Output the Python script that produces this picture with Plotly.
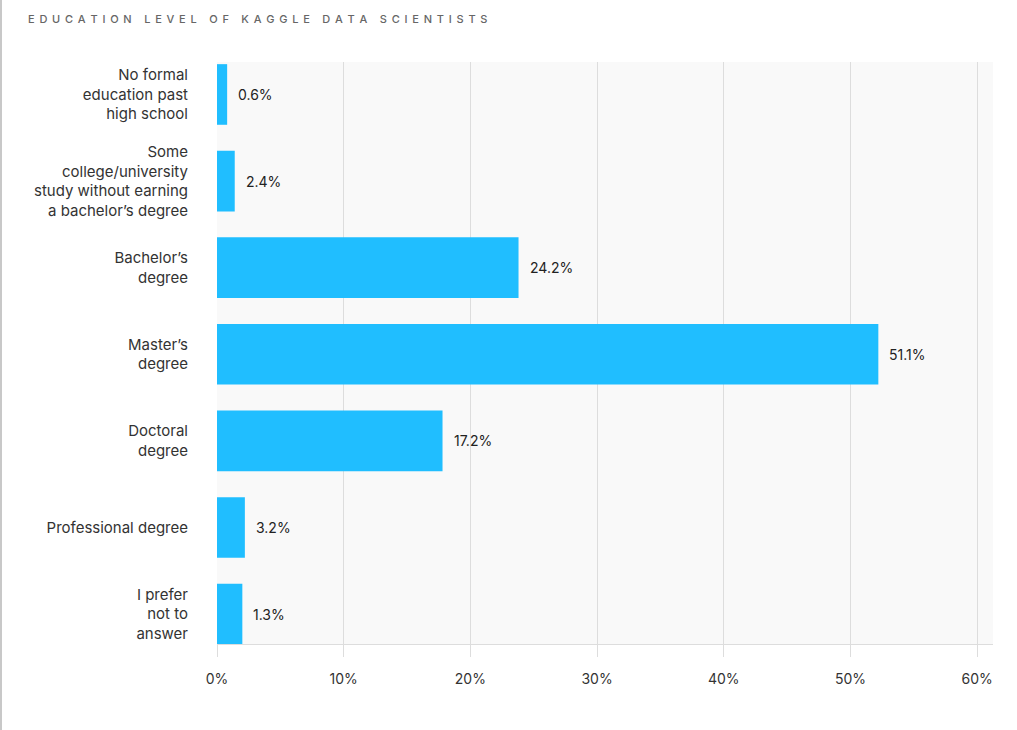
import plotly.graph_objects as go

categories = [
    "No formal<br>education past<br>high school",
    "Some<br>college/university<br>study without earning<br>a bachelor’s degree",
    "Bachelor’s<br>degree",
    "Master’s<br>degree",
    "Doctoral<br>degree",
    "Professional degree",
    "I prefer<br>not to<br>answer",
]
# bar lengths as drawn (percent)
bar_values = [0.8, 1.4, 23.8, 52.2, 17.8, 2.2, 2.0]
# printed value labels
value_labels = ["0.6%", "2.4%", "24.2%", "51.1%", "17.2%", "3.2%", "1.3%"]
x_ticks = [0, 10, 20, 30, 40, 50, 60]
x_tick_text = ["0%", "10%", "20%", "30%", "40%", "50%", "60%"]

title_text = "EDUCATION LEVEL OF KAGGLE DATA SCIENTISTS"
spaced_title = "\u2009\u2009\u200a".join(list(title_text))

FONT = "Inter, Roboto, sans-serif"
W, H = 1017, 730
L, R, T, B = 217, 24, 62, 86

fig = go.Figure()
fig.add_trace(go.Bar(
    x=bar_values,
    y=list(range(len(categories))),
    orientation="h",
    marker=dict(color="#20BEFF", line=dict(width=0)),
    width=0.70,
    hoverinfo="skip",
))

for i, (v, lab) in enumerate(zip(bar_values, value_labels)):
    fig.add_annotation(
        x=v, y=i, text=lab, showarrow=False, xanchor="left", yanchor="middle",
        xshift=9, font=dict(family=FONT, size=14, color="#222222"),
    )

plot_w = W - L - R
fig.add_shape(
    type="line", xref="paper", yref="paper",
    x0=(1 - L) / plot_w, x1=(1 - L) / plot_w, y0=-B / (H - T - B), y1=1 + T / (H - T - B),
    line=dict(color="#c8c8c8", width=2), layer="above",
)

fig.update_layout(
    width=W, height=H,
    margin=dict(l=L, r=R, t=T, b=B),
    paper_bgcolor="white",
    plot_bgcolor="#f9f9f9",
    showlegend=False,
    font=dict(family=FONT, size=15, color="#333333"),
    title=dict(
        text=spaced_title, x=28 / W, xanchor="left", y=1 - 19 / H, yanchor="middle",
        font=dict(family=FONT, size=11, color="#666666", weight=500),
    ),
    xaxis=dict(
        range=[0, 61.25], tickvals=x_ticks, ticktext=x_tick_text,
        showgrid=True, gridcolor="#dddddd", gridwidth=1,
        ticks="outside", ticklen=12, tickcolor="#dddddd", tickwidth=1,
        showline=True, linecolor="#dddddd", linewidth=1,
        zeroline=False, ticklabelstandoff=10,
        tickfont=dict(family=FONT, size=14, color="#333333"),
        fixedrange=True,
    ),
    yaxis=dict(
        range=[6.346, -0.375],
        tickvals=list(range(len(categories))), ticktext=categories,
        showgrid=False, zeroline=False, showline=False, ticks="",
        ticklabelstandoff=28,
        tickfont=dict(family=FONT, size=15, color="#333333"),
        fixedrange=True,
    ),
)

fig.write_html("out.html", config={"displayModeBar": False},
               post_script="document.body.style.margin='0';")
